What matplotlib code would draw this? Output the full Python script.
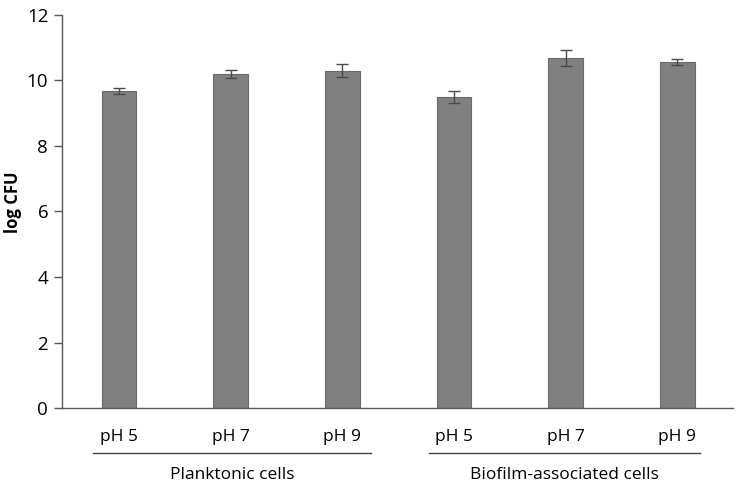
import matplotlib.pyplot as plt

# data
ph_labels = ['pH 5', 'pH 7', 'pH 9', 'pH 5', 'pH 7', 'pH 9']
log_cfu = [9.68, 10.2, 10.3, 9.5, 10.68, 10.57]
err = [0.1, 0.12, 0.2, 0.18, 0.25, 0.1]
groups = ['Planktonic cells', 'Biofilm-associated cells']

plt.rcParams['font.family'] = ['Open Sans', 'DejaVu Sans']

fig = plt.figure(figsize=(7.39, 4.91), dpi=100)
ax = fig.add_axes([0.084, 0.169, 0.908, 0.8005])

x = list(range(len(log_cfu)))
ax.bar(x, log_cfu, width=0.31, color='#808080', edgecolor='#6a6a6a', linewidth=0.8,
       yerr=err, error_kw=dict(ecolor='#4a4a4a', elinewidth=1, capsize=4, capthick=1))

ax.set_xlim(-0.51, 5.5)
ax.set_ylim(0, 12)
ax.set_yticks([0, 2, 4, 6, 8, 10, 12])
ax.set_xticks(x)
ax.set_xticklabels(ph_labels, fontsize=12.5)
ax.tick_params(axis='x', length=0, pad=15)
ax.tick_params(axis='y', length=6, width=1, color='#595959', labelsize=13.5, pad=4)
# y label placed by hand, as in the reference
fig.text(13 / 739, 1 - 202 / 491, 'log CFU', rotation=90, ha='center', va='center',
         fontsize=12, fontweight='bold')

for s in ['top', 'right']:
    ax.spines[s].set_visible(False)
for s in ['left', 'bottom']:
    ax.spines[s].set_color('#595959')
    ax.spines[s].set_linewidth(1)

# group underlines and labels
trans = ax.get_xaxis_transform()
spans = [(-0.23, 2.26), (2.78, 5.2)]
for (a, b), name in zip(spans, groups):
    ax.plot([a, b], [-0.115, -0.115], transform=trans, color='#404040', lw=1, clip_on=False)
    ax.text((a + b) / 2, -0.17, name, transform=trans, ha='center', va='center', fontsize=12.5)

fig.savefig('out.png', dpi=100)
